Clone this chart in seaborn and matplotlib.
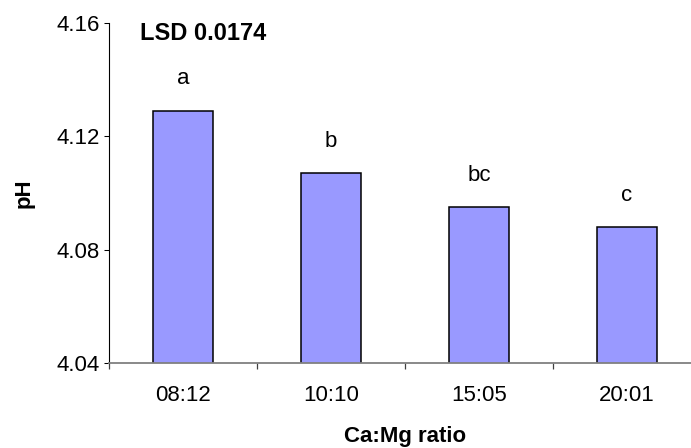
import matplotlib
matplotlib.use("Agg")
import matplotlib.pyplot as plt
import seaborn as sns
import pandas as pd

# values
ratios = ["08:12", "10:10", "15:05", "20:01"]
ph_values = [4.129, 4.107, 4.095, 4.088]
letters = ["a", "b", "bc", "c"]
y_ticks = [4.04, 4.08, 4.12, 4.16]
lsd_text = "LSD 0.0174"

sns.set_theme(context="paper", style="white")
plt.rcParams["font.family"] = ["Liberation Sans", "DejaVu Sans"]
plt.rcParams["text.color"] = "black"
plt.rcParams["axes.labelcolor"] = "black"
plt.rcParams["xtick.color"] = "black"
plt.rcParams["ytick.color"] = "black"

df = pd.DataFrame({"ratio": ratios, "pH": ph_values})

fig = plt.figure(figsize=(6.91, 4.48), dpi=100)
ax = fig.add_axes([109 / 691, 85 / 448, 592 / 691, 340 / 448])

sns.barplot(
    data=df,
    x="ratio",
    y="pH",
    order=ratios,
    color="#9999FF",
    saturation=1,
    width=0.405,
    edgecolor="black",
    linewidth=1.1,
    ax=ax,
)

ax.set_xlim(-0.5, len(ratios) - 0.5)
ax.set_ylim(y_ticks[0], y_ticks[-1])
ax.set_yticks(y_ticks)
ax.set_yticklabels([f"{t:.2f}" for t in y_ticks], fontsize=16)

# boundary ticks on the category axis, labels at the centres
ax.set_xticks([i - 0.5 for i in range(len(ratios) + 1)])
ax.set_xticklabels([])
ax.set_xticks(range(len(ratios)), minor=True)
ax.set_xticklabels(ratios, minor=True, fontsize=16)
ax.tick_params(axis="x", which="major", direction="out", length=4.3, width=0.9,
               color="#404040", bottom=True)
ax.tick_params(axis="x", which="minor", length=0, pad=16)
ax.tick_params(axis="y", direction="out", length=3.6, width=0.75,
               color="black", left=True, pad=3)

for s in ["top", "right"]:
    ax.spines[s].set_visible(False)
ax.spines["left"].set_color("black")
ax.spines["left"].set_linewidth(0.8)
ax.spines["bottom"].set_color("#808080")
ax.spines["bottom"].set_linewidth(1.3)

ax.set_xlabel("Ca:Mg ratio", fontsize=16, fontweight="bold", labelpad=14)
ax.set_ylabel("pH", fontsize=16, fontweight="bold")
ax.yaxis.set_label_coords(-0.125, 0.5)

for i, (v, lab) in enumerate(zip(ph_values, letters)):
    ax.annotate(lab, xy=(i, v), xytext=(0, 23), textcoords="offset points",
                ha="center", va="center", fontsize=16)

ax.text(0.052, 0.968, lsd_text, transform=ax.transAxes, ha="left", va="center",
        fontsize=17, fontweight="bold")

fig.savefig("out.png", dpi=100)
